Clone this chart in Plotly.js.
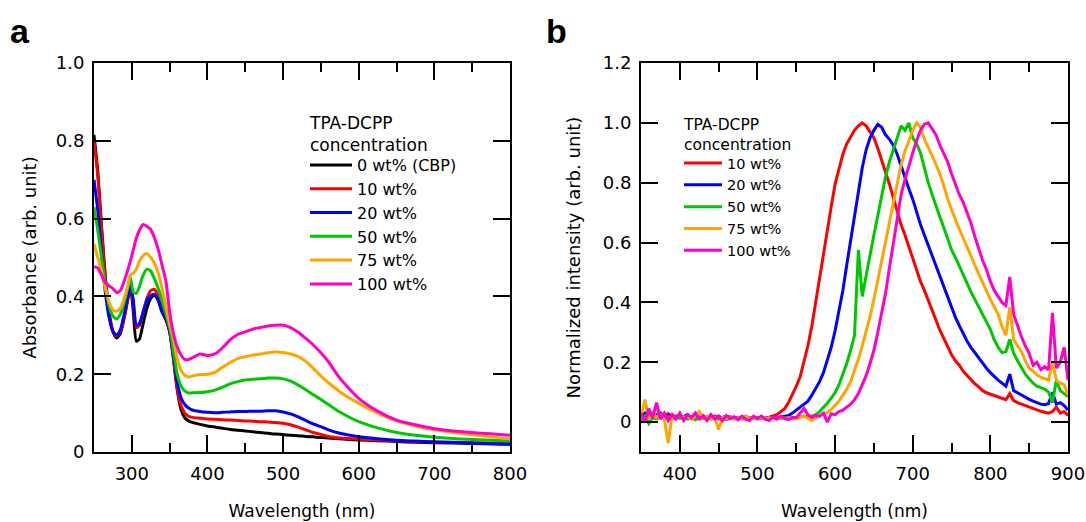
<!DOCTYPE html>
<html><head><meta charset="utf-8">
<script src="https://cdn.plot.ly/plotly-3.0.1.min.js"></script>
<style>html,body{margin:0;padding:0;background:#fff}#chart{width:1086px;height:522px}</style>
</head><body><div id="chart"></div>
<script>
// ---------- Panel a: absorbance ----------
const absWavelength = [250,255,260,265,270,275,280,285,290,295,
  298,302,306,310,315,320,325,330,335,340,
  345,350,355,360,365,370,375,380,390,400,
  410,420,430,440,450,460,470,480,490,500,
  510,520,530,540,550,560,575,600,625,650,
  675,700,750,800];
const abs0 = [0.815,0.72,0.58,0.45,0.36,0.31,0.293,0.305,0.345,0.395,
  0.43,0.36,0.285,0.29,0.33,0.37,0.395,0.403,0.39,0.36,
  0.34,0.31,0.24,0.16,0.11,0.088,0.08,0.076,0.071,0.067,
  0.064,0.061,0.058,0.056,0.054,0.052,0.05,0.048,0.046,0.045,
  0.043,0.042,0.04,0.039,0.037,0.036,0.034,0.031,0.029,0.027,
  0.025,0.024,0.022,0.02];
const abs10 = [0.80,0.71,0.57,0.44,0.35,0.31,0.298,0.31,0.35,0.4,
  0.43,0.38,0.32,0.325,0.36,0.395,0.415,0.418,0.4,0.37,
  0.345,0.31,0.24,0.165,0.12,0.1,0.092,0.089,0.087,0.085,
  0.084,0.083,0.082,0.081,0.08,0.079,0.078,0.077,0.076,0.074,
  0.07,0.064,0.057,0.05,0.045,0.04,0.036,0.033,0.031,0.029,
  0.027,0.026,0.024,0.022];
const abs20 = [0.70,0.62,0.51,0.41,0.345,0.31,0.3,0.315,0.355,0.405,
  0.435,0.39,0.326,0.33,0.36,0.39,0.402,0.405,0.39,0.36,
  0.345,0.31,0.25,0.18,0.14,0.122,0.113,0.108,0.104,0.102,
  0.101,0.102,0.103,0.104,0.104,0.105,0.105,0.106,0.106,0.103,
  0.098,0.09,0.081,0.072,0.065,0.057,0.048,0.039,0.034,0.03,
  0.028,0.026,0.023,0.02];
const abs50 = [0.63,0.57,0.5,0.43,0.375,0.35,0.342,0.355,0.385,0.425,
  0.45,0.41,0.408,0.425,0.455,0.47,0.465,0.445,0.42,0.39,
  0.355,0.32,0.26,0.2,0.17,0.157,0.152,0.152,0.153,0.155,
  0.159,0.167,0.175,0.181,0.185,0.187,0.188,0.19,0.19,0.188,
  0.182,0.172,0.16,0.147,0.135,0.122,0.103,0.078,0.062,0.05,
  0.043,0.038,0.032,0.028];
const abs75 = [0.535,0.5,0.465,0.42,0.385,0.365,0.362,0.37,0.395,0.43,
  0.455,0.46,0.47,0.49,0.505,0.51,0.5,0.485,0.46,0.42,
  0.375,0.33,0.29,0.24,0.21,0.197,0.193,0.195,0.199,0.2,
  0.205,0.218,0.23,0.24,0.245,0.249,0.252,0.255,0.257,0.256,
  0.252,0.245,0.233,0.215,0.195,0.178,0.155,0.125,0.1,0.08,
  0.067,0.057,0.044,0.034];
const abs100 = [0.476,0.473,0.455,0.435,0.427,0.42,0.41,0.415,0.44,0.47,
  0.49,0.52,0.55,0.57,0.585,0.58,0.572,0.55,0.52,0.48,
  0.44,0.36,0.305,0.27,0.25,0.238,0.238,0.242,0.252,0.248,
  0.252,0.268,0.288,0.302,0.309,0.316,0.32,0.324,0.326,0.326,
  0.32,0.308,0.292,0.275,0.255,0.232,0.19,0.138,0.105,0.082,
  0.07,0.06,0.05,0.043];
const absLabels = ['0 wt% (CBP)','10 wt%','20 wt%','50 wt%','75 wt%','100 wt%'];

// ---------- Panel b: normalized PL ----------
const plWavelength = [350,355,360,365,370,375,380,385,390,395,
  400,405,410,415,420,425,430,435,440,445,
  450,455,460,465,470,475,480,485,490,495,
  500,505,510,515,520,525,530,535,540,545,
  550,555,560,565,570,575,580,585,590,595,
  600,605,610,615,620,625,630,635,640,645,
  650,655,660,665,670,675,680,685,690,695,
  700,705,710,715,720,725,730,735,740,745,
  750,755,760,765,770,775,780,785,790,795,
  800,805,810,815,820,825,830,835,840,845,
  850,855,860,865,870,875,880,885,890,895,
  900];
const pl10 = [0.03,0.012,0.035,0.02,0.025,0.015,0.022,0.028,0.012,0.02,
  0.025,0.015,0.02,0.012,0.02,0.016,0.02,0.012,0.016,0.02,
  0.012,0.016,0.02,0.012,0.015,0.012,0.014,0.02,0.012,0.015,
  0.012,0.015,0.013,0.016,0.02,0.025,0.035,0.045,0.065,0.09,
  0.12,0.151,0.2,0.255,0.32,0.4,0.49,0.575,0.65,0.72,
  0.795,0.85,0.895,0.93,0.955,0.975,0.99,1.0,0.99,0.97,
  0.95,0.915,0.877,0.835,0.795,0.75,0.705,0.66,0.625,0.585,
  0.545,0.508,0.47,0.44,0.405,0.37,0.34,0.307,0.28,0.25,
  0.225,0.205,0.19,0.17,0.155,0.14,0.128,0.118,0.105,0.098,
  0.093,0.088,0.083,0.078,0.075,0.095,0.072,0.065,0.06,0.055,
  0.05,0.045,0.04,0.036,0.033,0.03,0.035,0.05,0.03,0.035,
  0.022];
const pl20 = [0.02,0.03,0.015,0.025,0.02,0.03,0.015,0.02,0.025,0.015,
  0.02,0.018,0.025,0.012,0.02,0.015,0.022,0.012,0.018,0.015,
  0.02,0.012,0.015,0.018,0.012,0.016,0.013,0.018,0.012,0.015,
  0.013,0.016,0.012,0.015,0.018,0.014,0.016,0.018,0.022,0.03,
  0.04,0.05,0.058,0.07,0.09,0.112,0.135,0.165,0.205,0.25,
  0.305,0.37,0.44,0.525,0.61,0.695,0.77,0.85,0.91,0.95,
  0.975,0.995,0.985,0.96,0.945,0.925,0.895,0.855,0.815,0.78,
  0.745,0.7,0.66,0.625,0.59,0.555,0.52,0.486,0.45,0.415,
  0.385,0.35,0.322,0.295,0.27,0.25,0.232,0.212,0.195,0.18,
  0.165,0.152,0.14,0.13,0.12,0.16,0.105,0.098,0.09,0.082,
  0.076,0.07,0.065,0.06,0.058,0.062,0.1,0.06,0.065,0.055,
  0.04];
const pl50 = [0.0,0.02,-0.005,0.015,0.01,0.02,0.012,0.018,0.01,0.015,
  0.012,0.018,0.01,0.015,0.008,0.015,0.012,0.018,0.01,0.013,
  0.01,0.014,0.008,0.012,0.015,0.01,0.013,0.01,0.012,0.014,
  0.01,0.013,0.011,0.014,0.012,0.015,0.012,0.014,0.012,0.015,
  0.012,0.018,0.02,0.018,0.02,0.025,0.035,0.048,0.063,0.08,
  0.098,0.125,0.16,0.196,0.24,0.29,0.575,0.42,0.49,0.564,
  0.625,0.69,0.76,0.82,0.87,0.91,0.95,0.99,0.975,1.0,
  0.95,0.93,0.9,0.85,0.8,0.76,0.72,0.685,0.65,0.61,
  0.575,0.55,0.52,0.49,0.46,0.435,0.41,0.385,0.36,0.34,
  0.31,0.275,0.25,0.232,0.235,0.276,0.23,0.205,0.18,0.16,
  0.145,0.13,0.12,0.115,0.11,0.1,0.065,0.14,0.105,0.095,
  0.085];
const pl75 = [0.02,0.075,0.01,0.03,0.015,0.025,0.01,-0.07,0.02,0.015,
  0.025,0.015,0.02,0.01,0.02,0.035,0.015,0.02,0.01,0.015,
  -0.025,0.015,0.012,0.018,0.01,0.015,0.012,0.02,0.01,0.014,
  0.012,0.015,0.01,0.014,0.012,0.01,0.015,0.012,0.014,0.01,
  0.012,0.015,0.02,0.012,0.005,0.015,0.02,0.025,0.032,0.042,
  0.055,0.07,0.09,0.11,0.135,0.17,0.21,0.255,0.3,0.352,
  0.41,0.475,0.545,0.61,0.675,0.74,0.805,0.86,0.905,0.94,
  0.975,1.0,0.985,0.945,0.92,0.89,0.86,0.83,0.79,0.745,
  0.71,0.675,0.645,0.615,0.587,0.555,0.525,0.495,0.465,0.44,
  0.41,0.385,0.36,0.32,0.29,0.385,0.275,0.255,0.235,0.205,
  0.18,0.17,0.158,0.15,0.145,0.14,0.2,0.14,0.13,0.125,
  0.09];
const pl100 = [0.03,0.0,0.045,0.015,0.065,0.01,0.03,0.005,0.025,0.01,
  0.03,0.005,0.025,0.015,0.03,0.01,0.02,0.005,0.025,0.01,
  0.02,0.005,0.022,0.012,0.018,0.008,0.02,0.01,0.005,0.02,
  0.012,0.02,0.01,0.005,0.018,0.01,0.02,0.012,0.008,0.015,
  0.015,0.03,0.045,0.025,0.015,0.022,0.02,0.03,0.0,0.028,
  0.025,0.035,0.04,0.05,0.06,0.075,0.095,0.125,0.155,0.196,
  0.24,0.3,0.36,0.43,0.515,0.6,0.685,0.76,0.81,0.86,
  0.9,0.94,0.975,0.995,1.0,0.98,0.96,0.925,0.9,0.87,
  0.83,0.795,0.76,0.735,0.7,0.665,0.62,0.58,0.54,0.51,
  0.47,0.44,0.42,0.4,0.39,0.485,0.36,0.32,0.285,0.255,
  0.23,0.19,0.2,0.175,0.185,0.175,0.365,0.18,0.2,0.25,
  0.14];
const plLabels = ['10 wt%','20 wt%','50 wt%','75 wt%','100 wt%'];

const absTickVals = [0,0.2,0.4,0.6,0.8,1.0];
const absTickText = ['0','0.2','0.4','0.6','0.8','1.0'];
const plTickVals = [0,0.2,0.4,0.6,0.8,1.0,1.2];
const plTickText = ['0','0.2','0.4','0.6','0.8','1.0','1.2'];
const legendTitleText = 'TPA-DCPP<br>concentration';

const colorsAbs = ['#000000','#ff0000','#0000ff','#00c800','#ffa500','#ff00cc'];
const colorsPl = ['#ff0000','#0000ff','#00c800','#ffa500','#ff00cc'];

const FONT = '"DejaVu Sans", "Noto Sans", sans-serif';

const absSeries = [abs0, abs10, abs20, abs50, abs75, abs100];
const plSeries = [pl10, pl20, pl50, pl75, pl100];

const traces = [];
absSeries.forEach((ys, i) => {
  traces.push({
    x: absWavelength, y: ys, type: 'scatter', mode: 'lines',
    name: absLabels[i], xaxis: 'x', yaxis: 'y', legend: 'legend',
    line: {color: colorsAbs[i], width: 3, shape: 'spline', smoothing: 0.6}
  });
});
plSeries.forEach((ys, i) => {
  traces.push({
    x: plWavelength, y: ys, type: 'scatter', mode: 'lines',
    name: plLabels[i], xaxis: 'x2', yaxis: 'y2', legend: 'legend2',
    line: {color: colorsPl[i], width: 3}
  });
});

const W = 1086, H = 522;
const axisCommon = {
  showline: true, linecolor: '#000', linewidth: 2, mirror: 'ticks',
  ticks: 'inside', ticklen: 17, tickwidth: 2, tickcolor: '#000',
  showgrid: false, zeroline: false,
  tickfont: {family: FONT, size: 18, color: '#000'},
  ticklabelstandoff: 4,
  automargin: false
};
const yTop = 1 - 63/H, yBot = 1 - 452/H;
const minorX = {dtick: 50, tick0: 0, ticks: 'inside', ticklen: 9, tickwidth: 2, tickcolor: '#000', showgrid: false};

const layout = {
  width: W, height: H,
  margin: {l: 0, r: 0, t: 0, b: 0},
  paper_bgcolor: '#fff', plot_bgcolor: '#fff',
  font: {family: FONT, color: '#000'},
  xaxis: Object.assign({}, axisCommon, {
    domain: [94/W, 510/W], range: [250, 800], anchor: 'y',
    tickmode: 'linear', tick0: 0, dtick: 100, minor: minorX,
    title: {text: 'Wavelength (nm)', font: {family: FONT, size: 17, color: '#000'}, standoff: 23}
  }),
  yaxis: Object.assign({}, axisCommon, {
    domain: [yBot, yTop], range: [0, 1.0], anchor: 'x',
    tickmode: 'array', tickvals: absTickVals, ticktext: absTickText,
    title: {text: 'Absorbance (arb. unit)', font: {family: FONT, size: 18, color: '#000'}, standoff: 14}
  }),
  xaxis2: Object.assign({}, axisCommon, {
    domain: [641/W, 1068/W], range: [350, 900], anchor: 'y2',
    tickmode: 'linear', tick0: 0, dtick: 100, minor: minorX,
    title: {text: 'Wavelength (nm)', font: {family: FONT, size: 17, color: '#000'}, standoff: 23}
  }),
  yaxis2: Object.assign({}, axisCommon, {
    domain: [yBot, yTop], range: [-0.1, 1.2], anchor: 'x2',
    tickmode: 'array', tickvals: plTickVals, ticktext: plTickText,
    title: {text: 'Normalized intensity (arb. unit)', font: {family: FONT, size: 18, color: '#000'}, standoff: 17}
  }),
  legend: {
    x: 305/W, y: 1 - 148/H, xanchor: 'left', yanchor: 'top',
    bgcolor: 'rgba(0,0,0,0)', borderwidth: 0, itemwidth: 42,
    font: {family: FONT, size: 16, color: '#000'},
    tracegroupgap: 0
  },
  legend2: {
    x: 679/W, y: 1 - 147/H, xanchor: 'left', yanchor: 'top',
    bgcolor: 'rgba(0,0,0,0)', borderwidth: 0, itemwidth: 38,
    font: {family: FONT, size: 14.5, color: '#000'},
    tracegroupgap: 0
  },
  showlegend: true,
  annotations: [
    {text: '<b>a</b>', x: 8/W, y: 1 - 10/H, xref: 'paper', yref: 'paper', xanchor: 'left', yanchor: 'top', showarrow: false,
     font: {family: 'Liberation Sans, Arial, sans-serif', size: 34, color: '#000'}},
    {text: '<b>b</b>', x: 544/W, y: 1 - 10/H, xref: 'paper', yref: 'paper', xanchor: 'left', yanchor: 'top', showarrow: false,
     font: {family: 'Liberation Sans, Arial, sans-serif', size: 34, color: '#000'}},
    {text: legendTitleText, x: 307/W, y: 1 - 111/H, xref: 'paper', yref: 'paper', xanchor: 'left', yanchor: 'top', align: 'left',
     showarrow: false, font: {family: FONT, size: 17, color: '#000'}},
    {text: legendTitleText, x: 681/W, y: 1 - 114/H, xref: 'paper', yref: 'paper', xanchor: 'left', yanchor: 'top', align: 'left',
     showarrow: false, font: {family: FONT, size: 15.5, color: '#000'}}
  ]
};

Plotly.newPlot('chart', traces, layout, {staticPlot: true, displayModeBar: false});
</script>
</body></html>
